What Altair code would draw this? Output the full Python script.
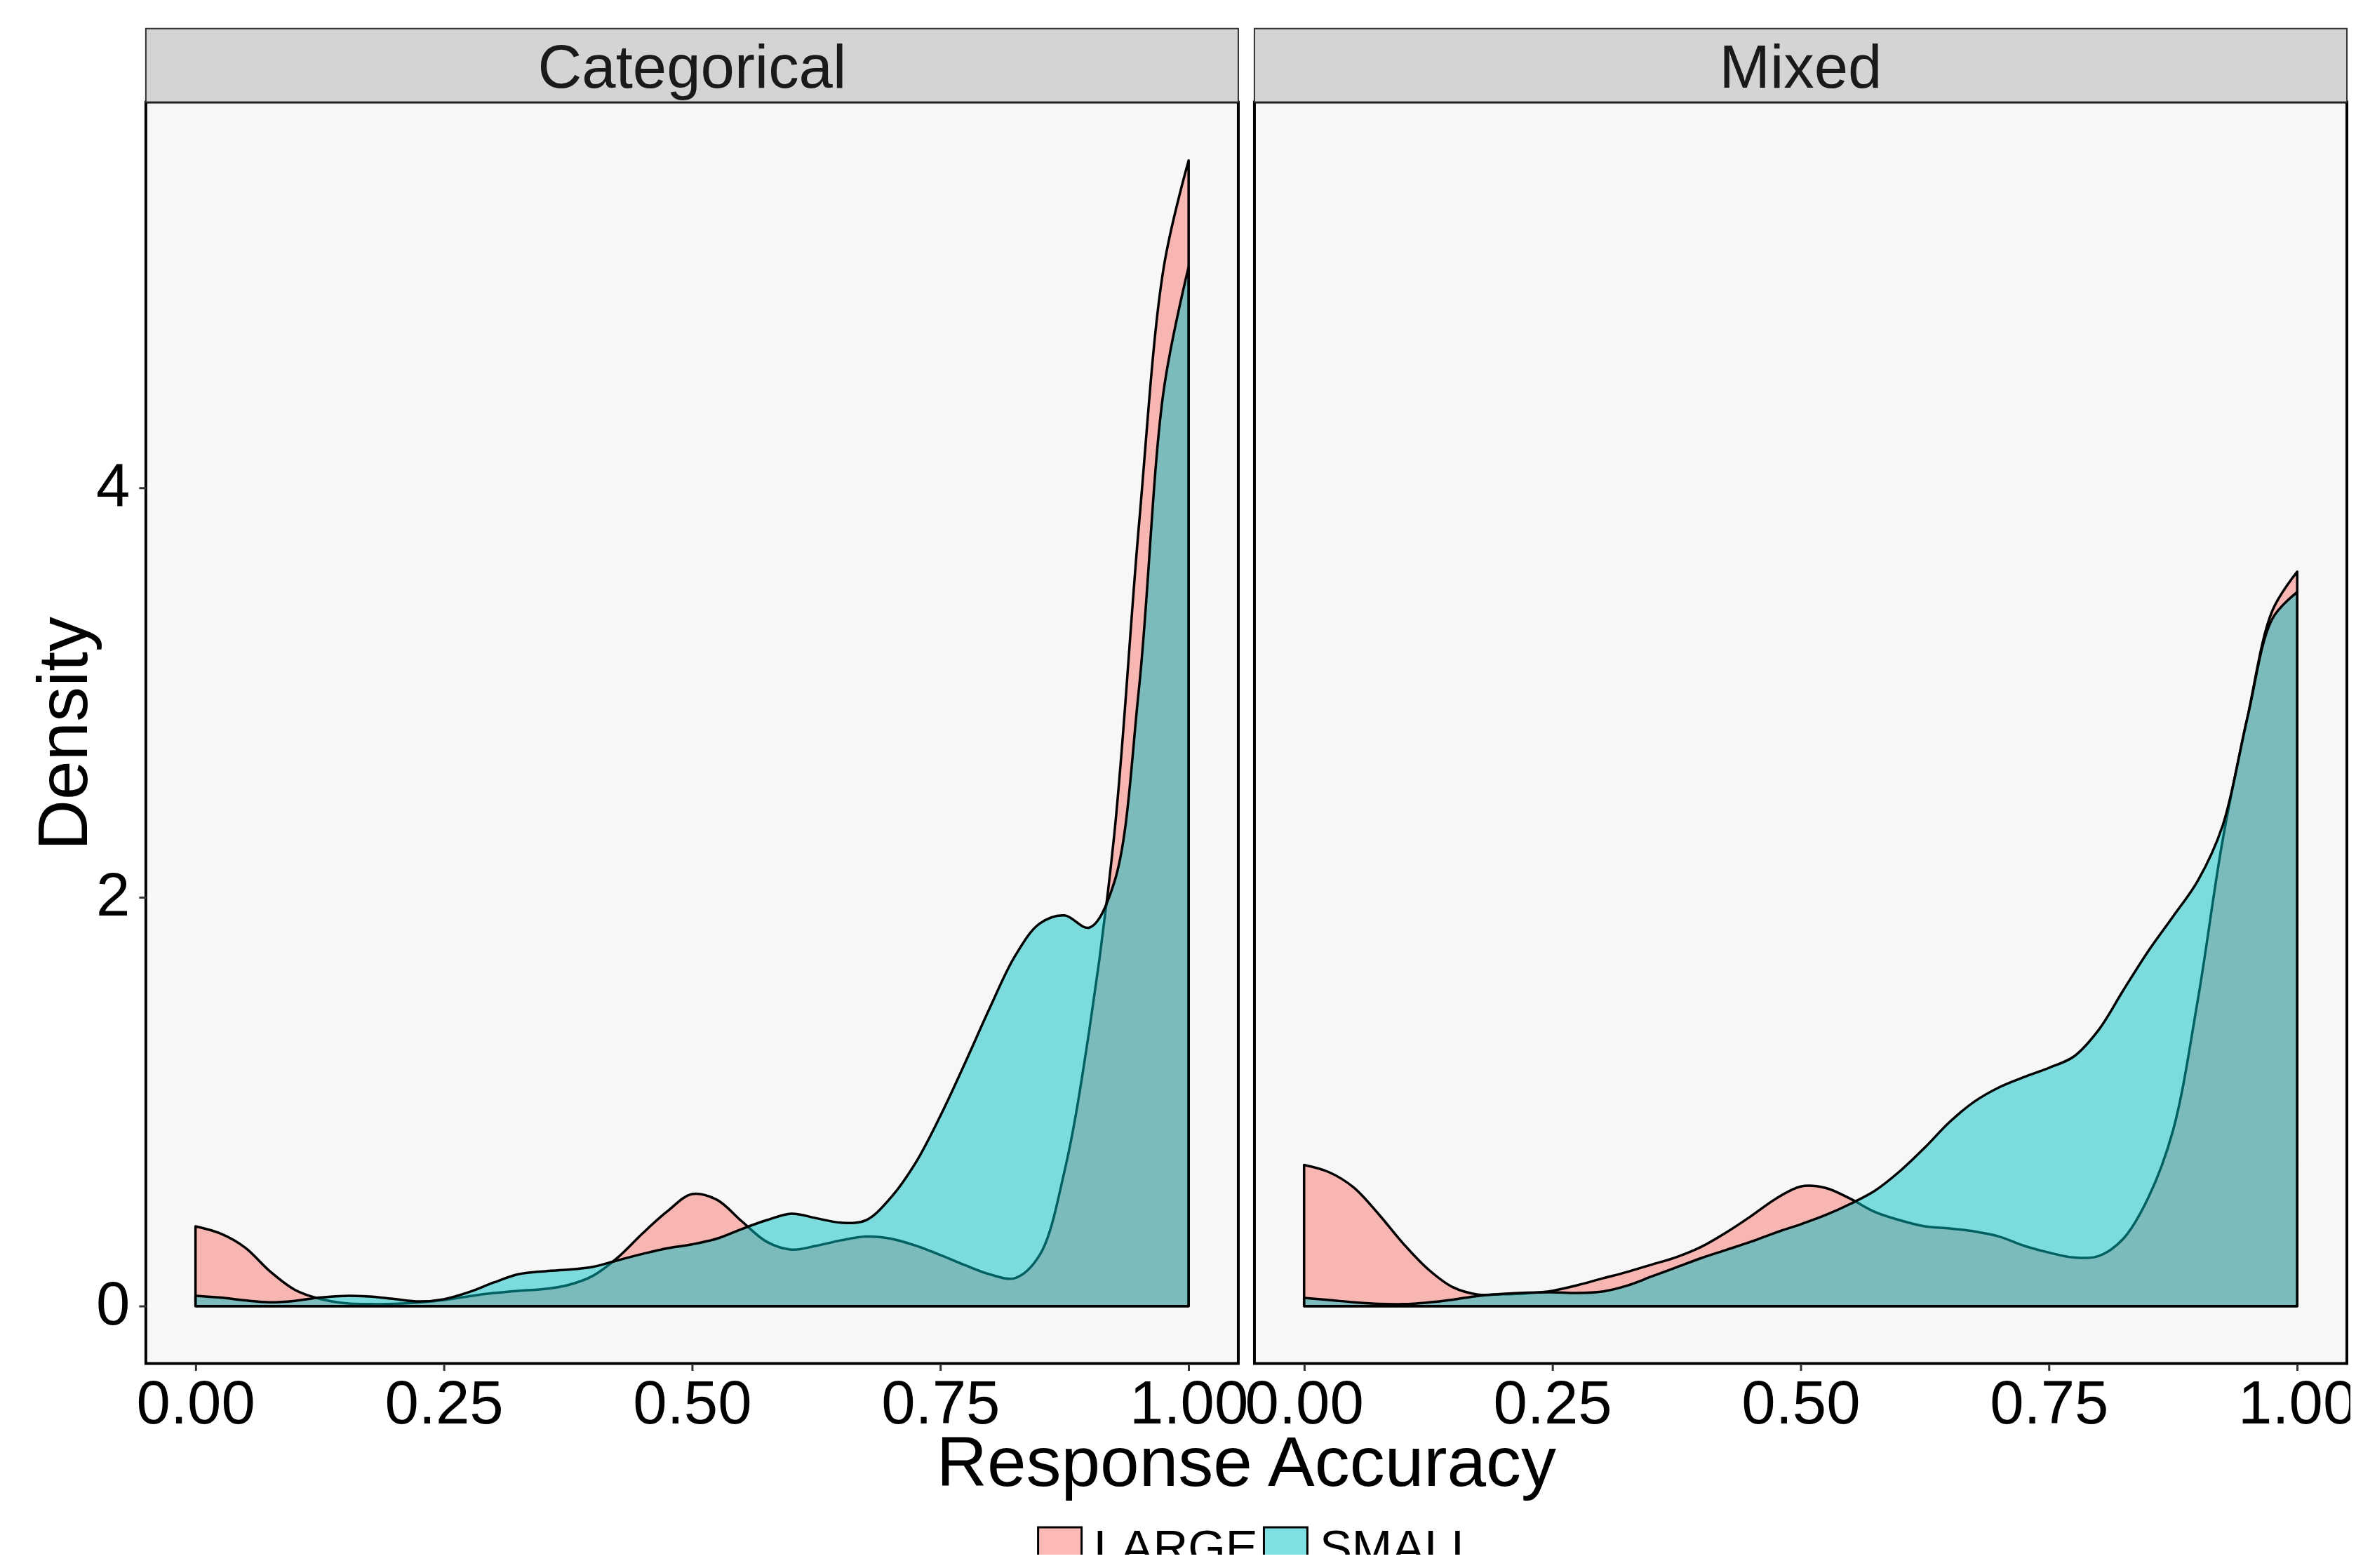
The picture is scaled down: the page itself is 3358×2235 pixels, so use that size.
import altair as alt
import pandas as pd

panels = ["Categorical", "Mixed"]
groups = ["LARGE", "SMALL"]

accuracy = [0.0, 0.025, 0.05, 0.075, 0.1, 0.125, 0.15, 0.175, 0.2, 0.225,
            0.25, 0.275, 0.3, 0.325, 0.35, 0.375, 0.4, 0.425, 0.45, 0.475,
            0.5, 0.525, 0.55, 0.575, 0.6, 0.625, 0.65, 0.675, 0.7, 0.725,
            0.75, 0.775, 0.8, 0.825, 0.85, 0.875, 0.9, 0.925, 0.95, 0.975, 1.0]

cat_large = [0.39, 0.355, 0.286, 0.17, 0.08, 0.036, 0.015, 0.010, 0.011, 0.018,
             0.030, 0.048, 0.064, 0.075, 0.083, 0.103, 0.148, 0.237, 0.355, 0.463,
             0.548, 0.52, 0.415, 0.315, 0.276, 0.295, 0.322, 0.34, 0.33, 0.296,
             0.25, 0.20, 0.155, 0.137, 0.25, 0.66, 1.35, 2.30, 3.82, 5.08, 5.60]

cat_small = [0.051, 0.042, 0.028, 0.019, 0.026, 0.042, 0.050, 0.047, 0.035, 0.023,
             0.034, 0.068, 0.115, 0.156, 0.170, 0.178, 0.192, 0.224, 0.255, 0.283,
             0.302, 0.33, 0.377, 0.42, 0.452, 0.43, 0.408, 0.42, 0.53, 0.70,
             0.93, 1.19, 1.46, 1.71, 1.87, 1.91, 1.85, 2.07, 3.02, 4.48, 5.08]

mix_large = [0.69, 0.655, 0.58, 0.45, 0.305, 0.18, 0.092, 0.057, 0.058, 0.063,
             0.075, 0.102, 0.135, 0.167, 0.203, 0.24, 0.29, 0.36, 0.44, 0.525,
             0.585, 0.578, 0.525, 0.46, 0.42, 0.39, 0.38, 0.365, 0.34, 0.295,
             0.262, 0.238, 0.245, 0.33, 0.53, 0.86, 1.50, 2.28, 2.88, 3.40, 3.59]

mix_small = [0.04, 0.03, 0.019, 0.011, 0.01, 0.018, 0.032, 0.05, 0.06, 0.066,
             0.068, 0.064, 0.071, 0.1, 0.145, 0.19, 0.235, 0.275, 0.315, 0.36,
             0.40, 0.445, 0.50, 0.565, 0.66, 0.775, 0.90, 1.0, 1.07, 1.12,
             1.165, 1.22, 1.35, 1.545, 1.735, 1.905, 2.08, 2.35, 2.88, 3.36, 3.49]

x_ticks = [0.0, 0.25, 0.5, 0.75, 1.0]
y_ticks = [0, 2, 4]

series = {
    ("Categorical", "LARGE"): cat_large,
    ("Categorical", "SMALL"): cat_small,
    ("Mixed", "LARGE"): mix_large,
    ("Mixed", "SMALL"): mix_small,
}
rows = []
for (p, g), vals in series.items():
    for a, d in zip(accuracy, vals):
        rows.append({"panel": p, "group": g, "accuracy": a, "density": d})
df = pd.DataFrame(rows)

W, H = 1558, 1799
STRIP = 105
FONT = "Liberation Sans"

color_scale = alt.Scale(domain=groups,
                        range=["rgba(248,118,109,0.5)", "rgba(0,191,196,0.5)"])
x_scale = alt.Scale(domain=[-0.05, 1.05], nice=False, zero=False)
y_scale = alt.Scale(domain=[-0.2803, 5.885], nice=False, zero=False)

legend = alt.Legend(title=None, orient="none", legendX=1269, legendY=2029,
                    direction="horizontal", symbolType="square", symbolSize=3844,
                    symbolStrokeColor="black", symbolStrokeWidth=3, symbolOpacity=1,
                    labelFont=FONT, labelFontSize=69, labelColor="black",
                    labelOffset=14, columnPadding=2, padding=0, labelLimit=400)


def panel_chart(name, first):
    sub = df[df.panel == name]
    axis_common = dict(grid=False, domain=False, tickSize=10, tickWidth=3,
                       tickColor="#333333", labelFont=FONT, labelFontSize=87,
                       labelColor="black", labelLimit=400)
    if first:
        x_axis = alt.Axis(values=x_ticks, format=".2f", labelPadding=75,
                          labelBaseline="alphabetic", labelFlush=False,
                          labelOverlap=False, title="Response Accuracy",
                          titleFont=FONT, titleFontSize=100, titleFontWeight="normal",
                          titleColor="black", titleX=1569, titleY=174,
                          titleBaseline="alphabetic", titleAlign="center",
                          **axis_common)
        y_enc = alt.Y("density:Q", stack=False, scale=y_scale,
                      axis=alt.Axis(values=y_ticks, format="d", labelPadding=13,
                                    title="Density", titleFont=FONT, titleFontSize=100,
                                    titleFontWeight="normal", titleColor="black",
                                    titleAngle=270, titleBaseline="alphabetic",
                                    titleAlign="center", titleX=-84, titleY=900,
                                    **axis_common))
    else:
        x_axis = alt.Axis(values=x_ticks, format=".2f", labelPadding=75,
                          labelBaseline="alphabetic", labelFlush=False,
                          labelOverlap=False, title=None, **axis_common)
        y_enc = alt.Y("density:Q", stack=False, scale=y_scale, axis=None)

    area = alt.Chart(sub).mark_area(
        interpolate="catmull-rom", stroke="black", strokeWidth=3.5, strokeJoin="round"
    ).encode(
        x=alt.X("accuracy:Q", scale=x_scale, axis=x_axis),
        y=y_enc,
        color=alt.Color("group:N", scale=color_scale, legend=legend),
    )

    strip_df = pd.DataFrame({"panel": [name]})
    strip_rect = alt.Chart(strip_df).mark_rect(
        fill="#D4D4D4", stroke="#333333", strokeWidth=2
    ).encode(x=alt.value(0), x2=alt.value(W), y=alt.value(-STRIP), y2=alt.value(0))
    strip_text = alt.Chart(strip_df).mark_text(
        font=FONT, fontSize=87, color="#1A1A1A", baseline="alphabetic", align="center"
    ).encode(x=alt.value(W / 2), y=alt.value(-21), text="panel:N")

    return alt.layer(area, strip_rect, strip_text).properties(width=W, height=H)


chart = alt.hconcat(
    panel_chart("Categorical", True), panel_chart("Mixed", False),
    spacing=23, bounds="flush"
).properties(
    padding={"left": 34, "top": 29, "right": -11, "bottom": -30}
).configure(
    background="white"
).configure_view(
    stroke="black", strokeWidth=4, fill="#F7F7F7"
)

chart.save("out.html", embed_options={"renderer": "svg", "actions": False})
